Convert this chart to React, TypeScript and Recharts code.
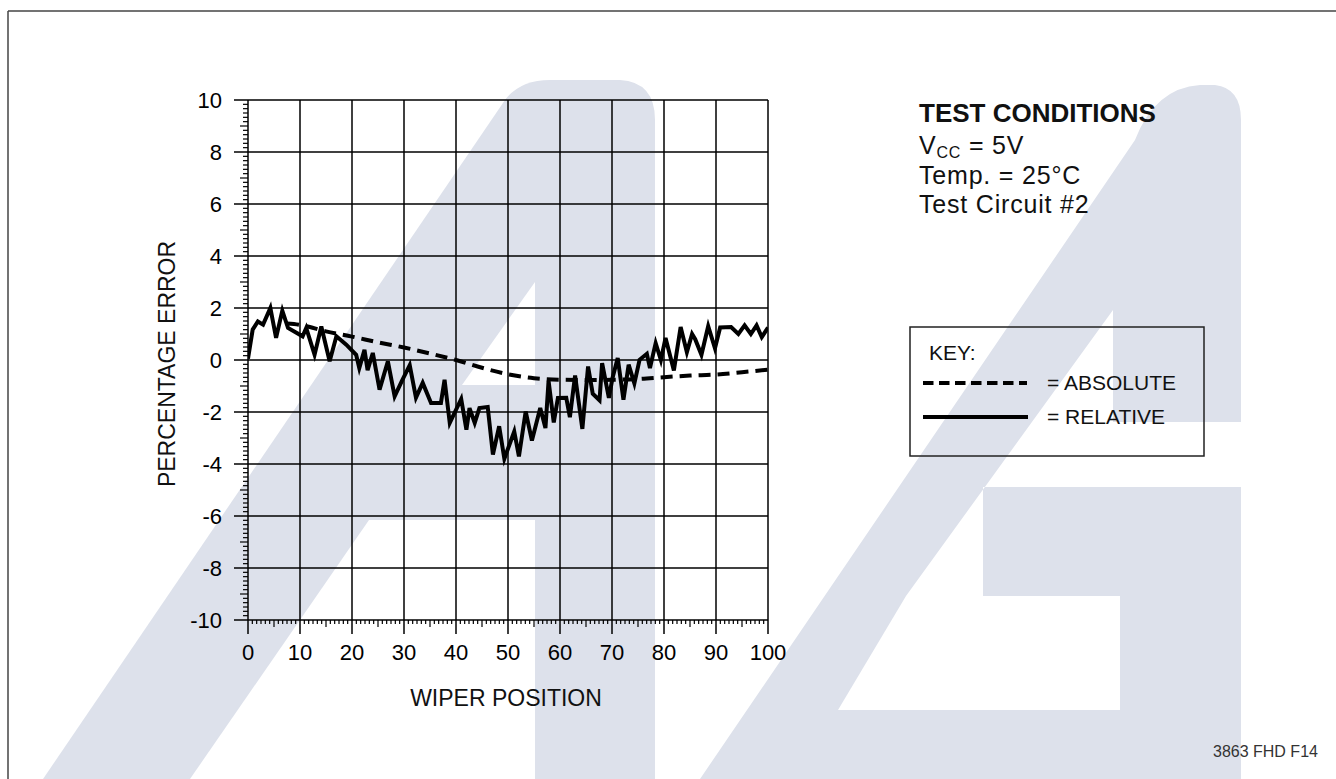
import { LineChart, Line, XAxis, YAxis, ReferenceLine } from 'recharts';

// wiper position vs percentage error
const xTicks = [0, 10, 20, 30, 40, 50, 60, 70, 80, 90, 100];
const yTicks = [-10, -8, -6, -4, -2, 0, 2, 4, 6, 8, 10];

const relativeX = [
  0, 0.9, 1.9, 2.9, 4.3, 5.4, 6.6, 7.7, 10.5, 11.2, 12.8, 14.1, 15.7, 17.0, 18.9,
  20.8, 21.4, 22.4, 23.0, 24.0, 25.3, 26.9, 28.2, 29.6, 31.1, 32.3, 33.6, 35.2,
  37.1, 37.8, 38.8, 41.0, 42.0, 42.6, 43.6, 44.5, 46.1, 47.1, 48.3, 49.3, 51.2,
  52.1, 53.4, 54.6, 56.2, 57.2, 57.8, 58.8, 59.6, 61.2, 61.9, 62.9, 64.3, 65.4,
  66.3, 67.6, 68.1, 69.4, 70.1, 71.1, 72.2, 73.2, 74.3, 75.3, 76.7, 77.3, 78.4,
  79.4, 80.3, 81.9, 83.2, 84.4, 85.4, 86.0, 87.2, 88.5, 89.8, 90.8, 92.9, 94.3,
  95.5, 96.7, 97.8, 98.8, 100,
];
const relativeY = [
  0.05, 1.17, 1.48, 1.36, 2.0, 0.85, 1.9, 1.23, 0.91, 1.23, 0.2, 1.29, -0.05, 0.91, 0.59,
  0.2, -0.31, 0.39, -0.39, 0.27, -1.14, -0.05, -1.4, -0.8, -0.2, -1.45, -0.88, -1.65,
  -1.65, -0.76, -2.42, -1.5, -2.68, -1.85, -2.42, -1.85, -1.81, -3.64, -2.55, -3.8, -2.75,
  -3.71, -1.98, -3.1, -1.85, -2.62, -0.8, -2.4, -1.46, -1.45, -2.2, -0.6, -2.65, -0.25,
  -1.3, -1.55, -0.12, -1.46, -0.69, 0.08, -1.53, -0.18, -0.9, 0.01, 0.24, -0.31, 0.65,
  0.0, 0.85, -0.4, 1.27, 0.3, 1.0, 0.8, 0.2, 1.3, 0.45, 1.25, 1.27, 1.0,
  1.33, 1.0, 1.33, 0.88, 1.25,
];

const absoluteX = [7.5, 10, 15, 20, 25, 30, 35, 40, 45, 50, 55, 60, 65, 70, 75, 80, 85, 90, 95, 100];
const absoluteY = [1.4, 1.35, 1.1, 0.9, 0.68, 0.48, 0.25, 0.0, -0.3, -0.55, -0.7, -0.76, -0.77, -0.76, -0.73, -0.66, -0.6, -0.56, -0.47, -0.37];

const relative = relativeX.map((x, i) => ({ x, y: relativeY[i] }));
const absolute = absoluteX.map((x, i) => ({ x, y: absoluteY[i] }));

// 12 small ticks per major division, the middle one a bit longer
const xAll = Array.from({ length: 121 }, (_, i) => (i * 10) / 12);
const yAll = Array.from({ length: 121 }, (_, i) => -10 + i / 6);

const FONT = '"Liberation Sans", Arial, Helvetica, sans-serif';
const WM = '#dde1eb';

const XTick = (props: any) => {
  const { x, y, payload } = props;
  const k = Math.round((payload.value * 12) / 10);
  const major = k % 12 === 0;
  const len = major ? 14 : k % 6 === 0 ? 7 : 4;
  return (
    <g>
      <line x1={x} y1={y} x2={x} y2={y + len} stroke="#000" strokeWidth={major ? 1.5 : 1.2} />
      {major && (
        <text x={x} y={y + 40} textAnchor="middle" fontSize={22} fill="#000">{payload.value}</text>
      )}
    </g>
  );
};

const YTick = (props: any) => {
  const { x, y, payload } = props;
  const k = Math.round((payload.value + 10) * 6);
  const major = k % 12 === 0;
  const len = major ? 14 : k % 6 === 0 ? 8 : 5;
  return (
    <g>
      <line x1={x - len} y1={y} x2={x} y2={y} stroke="#000" strokeWidth={major ? 1.5 : 1.2} />
      {major && (
        <text x={x - 26} y={y + 8} textAnchor="end" fontSize={22} fill="#000">{Math.round(payload.value)}</text>
      )}
    </g>
  );
};

const Watermark = () => (
  <svg width={1336} height={779} style={{ position: 'absolute', left: 0, top: 0 }}>
    <path d="M43,779 L505,100 Q520,80 550,80 L620,80 Q655,82 655,120 L655,779 Z" fill={WM} />
    <polygon points="462,385 535,385 535,282" fill="#fff" />
    <polygon points="369,520 535,520 535,779 190,779" fill="#fff" />
    <path d="M700,779 L1135,140 Q1155,88 1200,85 L1215,85 Q1241,88 1241,120 L1241,779 Z" fill={WM} />
    <polygon points="1113,310 1113,422 1241,422 1241,487 983,487 983,596 906,596" fill="#fff" />
    <polygon points="906,596 1120,596 1120,710 838,710" fill="#fff" />
  </svg>
);

const Overlay = () => (
  <svg width={1336} height={779} style={{ position: 'absolute', left: 0, top: 0, pointerEvents: 'none' }} fontFamily={FONT}>
    <line x1={8} y1={11} x2={1336} y2={11} stroke="#444" strokeWidth={1.5} />
    <line x1={8} y1={11} x2={8} y2={779} stroke="#444" strokeWidth={1.5} />

    <text x={506} y={706} textAnchor="middle" fontSize={23} fill="#111">WIPER POSITION</text>
    <text transform="translate(175,364) rotate(-90)" textAnchor="middle" fontSize={23} fill="#111">PERCENTAGE ERROR</text>

    <text x={919} y={122} fontSize={26} fontWeight="bold" fill="#111">TEST CONDITIONS</text>
    <text x={919} y={154} fontSize={25} letterSpacing={0.8} fill="#111">
      V<tspan fontSize={16} dy={4}>CC</tspan><tspan dy={-4}> = 5V</tspan>
    </text>
    <text x={919} y={184} fontSize={25} letterSpacing={0.8} fill="#111">Temp. = 25°C</text>
    <text x={919} y={213} fontSize={25} letterSpacing={0.8} fill="#111">Test Circuit #2</text>

    <rect x={910} y={327} width={294} height={129} fill="none" stroke="#222" strokeWidth={1.5} />
    <text x={929} y={360} fontSize={21} fill="#111">KEY:</text>
    <line x1={923} y1={383} x2={1027} y2={383} stroke="#000" strokeWidth={4} strokeDasharray="10.5 5.5" />
    <text x={1047} y={390} fontSize={21} fill="#111">= ABSOLUTE</text>
    <line x1={923} y1={417} x2={1028} y2={417} stroke="#000" strokeWidth={4} />
    <text x={1047} y={424} fontSize={21} fill="#111">= RELATIVE</text>

    <text x={1213} y={757} fontSize={16} fill="#333">3863 FHD F14</text>
  </svg>
);

export default function App() {
  return (
    <div style={{ position: 'absolute', left: 0, top: 0, width: 1336, height: 779, background: '#fff', fontFamily: FONT, overflow: 'hidden' }}>
      <Watermark />
      <div style={{ position: 'absolute', left: 0, top: 0 }}>
        <LineChart width={1336} height={779} margin={{ top: 100, right: 568, bottom: 99, left: 168 }}>
          <XAxis type="number" dataKey="x" domain={[0, 100]} ticks={xAll} interval={0} tickSize={0} tickMargin={0}
            axisLine={false} tickLine={false} height={60} allowDataOverflow tick={<XTick />} />
          <YAxis type="number" domain={[-10, 10]} ticks={yAll} interval={0} tickSize={0} tickMargin={0}
            axisLine={false} tickLine={false} width={80} allowDataOverflow tick={<YTick />} />
          {xTicks.map(t => (
            <ReferenceLine key={`gx${t}`} x={t} stroke="#000" strokeWidth={1.5} />
          ))}
          {yTicks.map(t => (
            <ReferenceLine key={`gy${t}`} y={t} stroke="#000" strokeWidth={1.5} />
          ))}
          <Line data={absolute} dataKey="y" type="monotone" stroke="#000" strokeWidth={4} strokeDasharray="12 7"
            dot={false} activeDot={false} isAnimationActive={false} />
          <Line data={relative} dataKey="y" type="linear" stroke="#000" strokeWidth={4} strokeLinejoin="miter"
            dot={false} activeDot={false} isAnimationActive={false} />
        </LineChart>
      </div>
      <Overlay />
    </div>
  );
}
